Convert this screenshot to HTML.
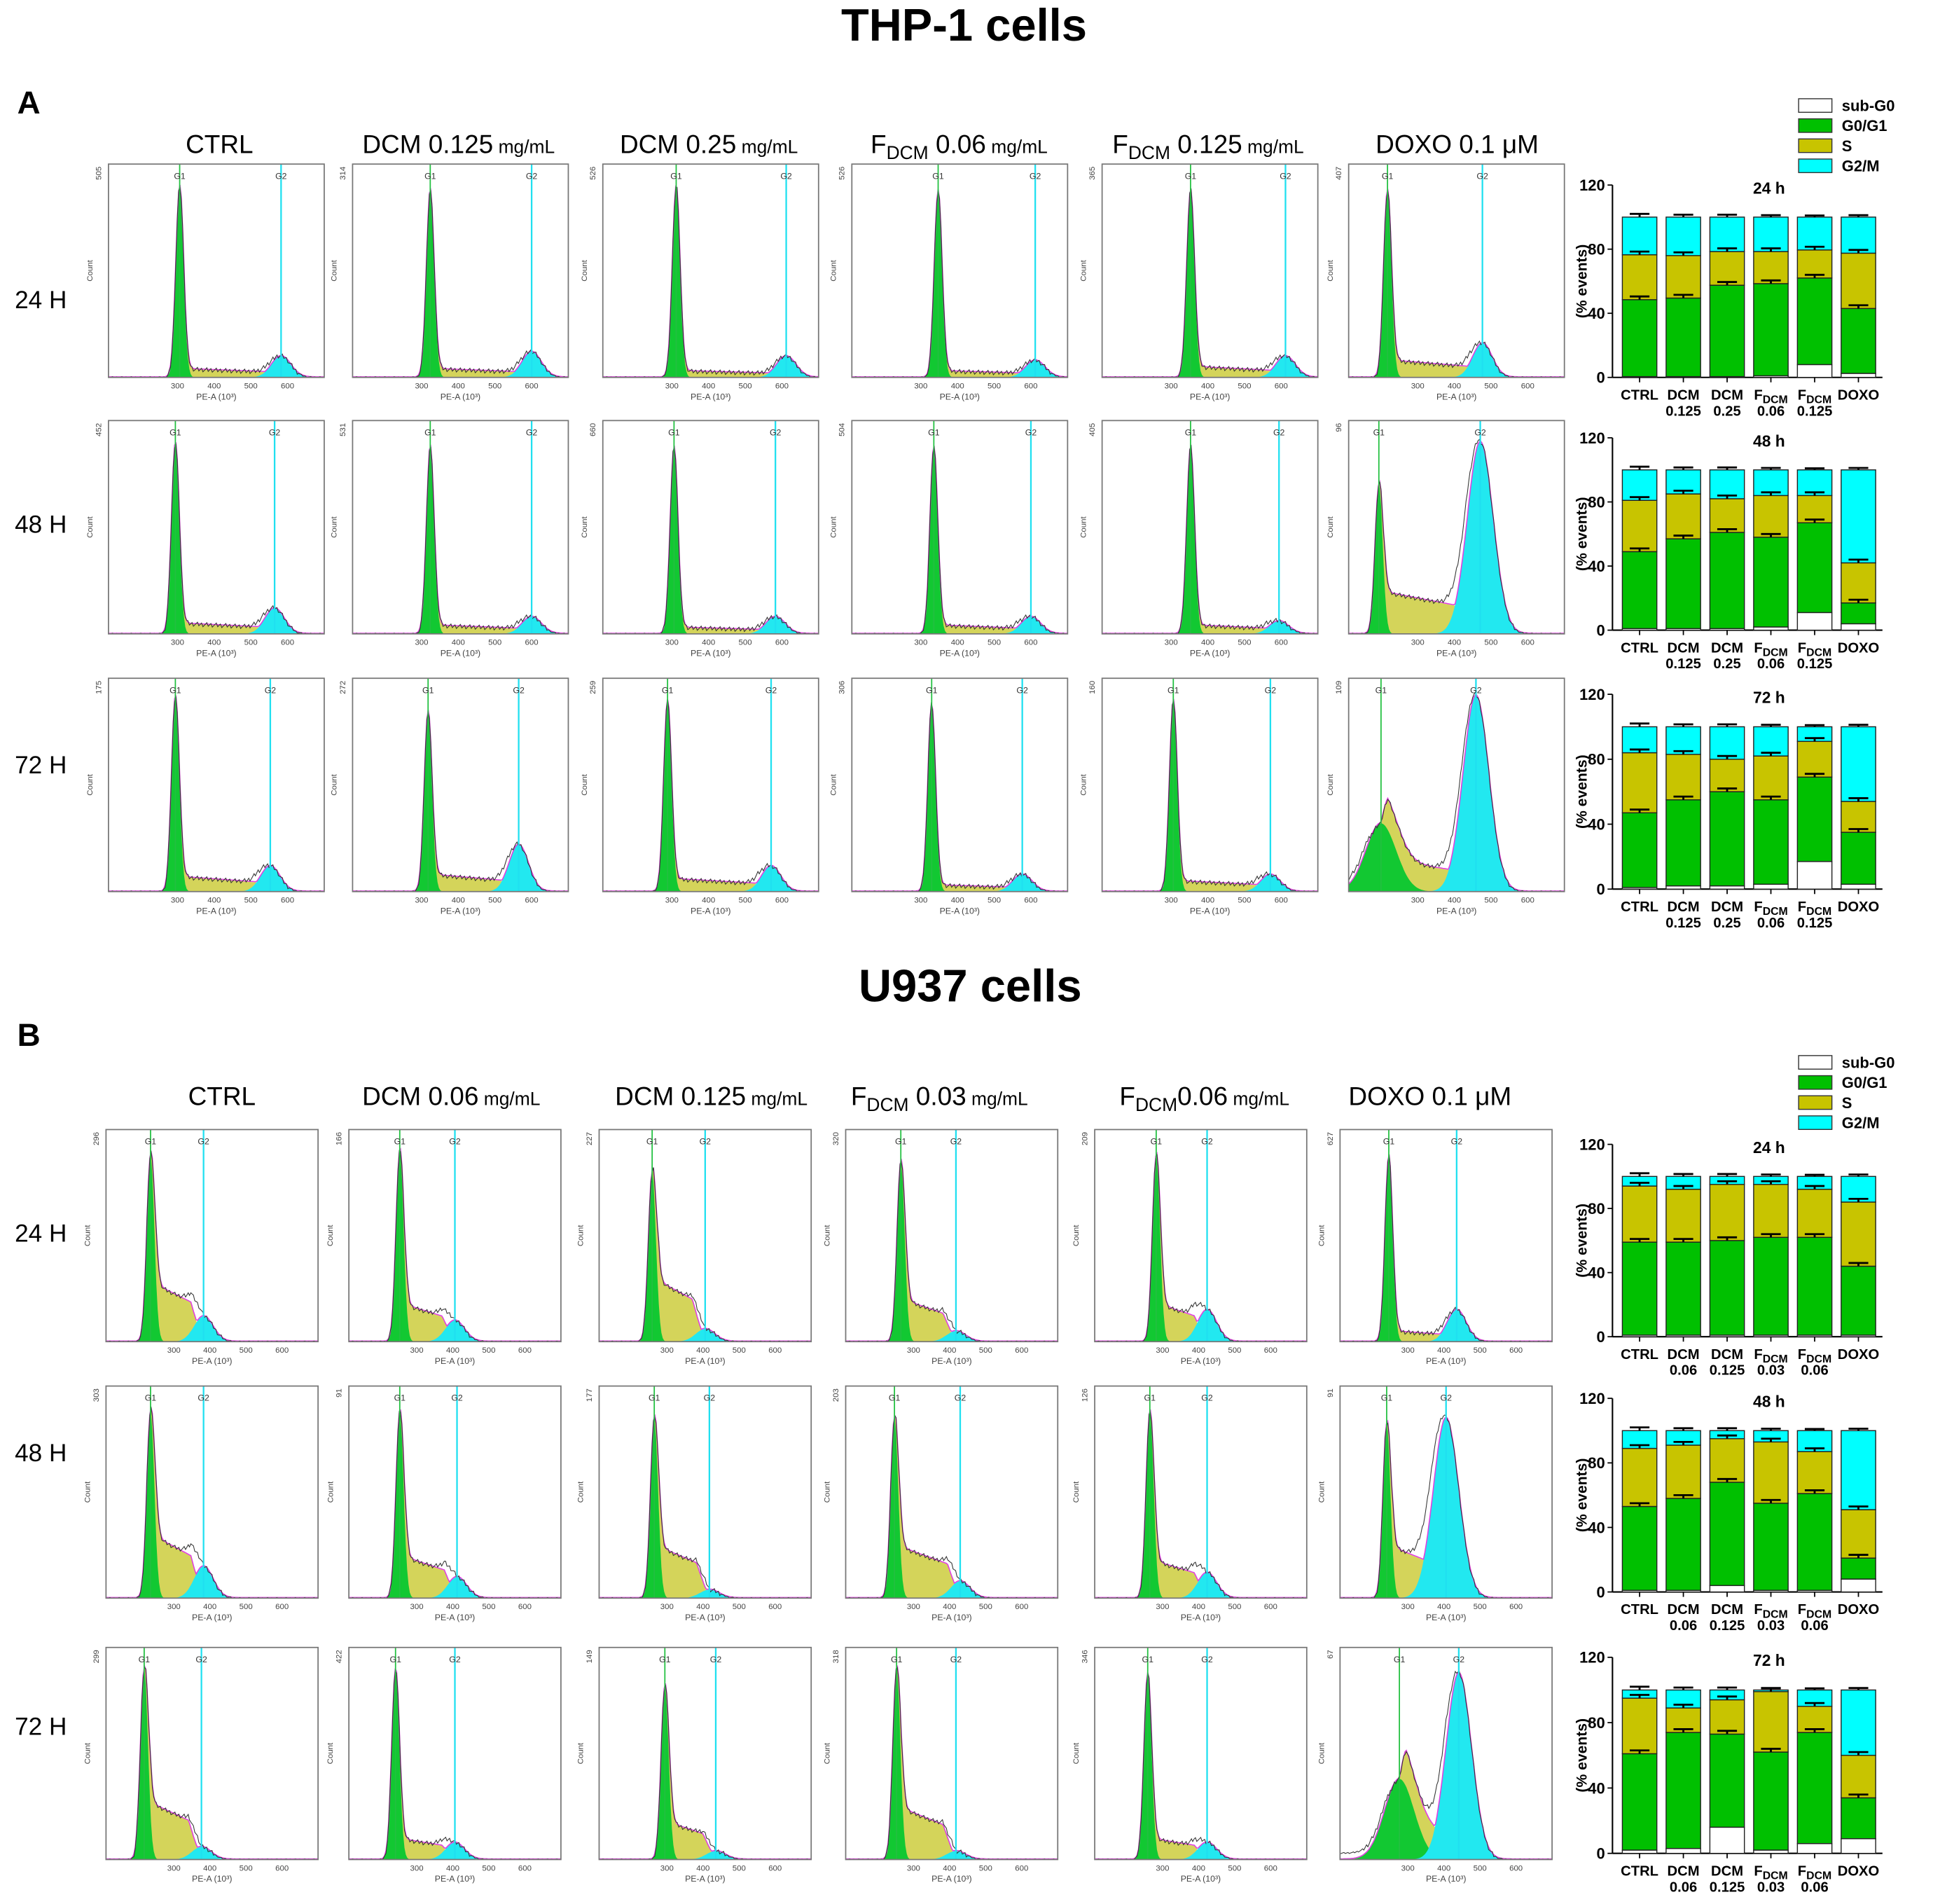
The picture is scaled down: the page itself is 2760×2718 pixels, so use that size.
<!DOCTYPE html>
<html><head><meta charset="utf-8"><style>
html,body{margin:0;padding:0;background:#fff}
svg{display:block}
text{font-family:"Liberation Sans",Arial,sans-serif}
</style></head><body>
<svg id="fig" width="2760" height="2718" viewBox="0 0 1568 1544" xmlns="http://www.w3.org/2000/svg">
<rect width="1568" height="1544" fill="#fff"/>
<text x="782" y="33" font-size="37" font-weight="bold" text-anchor="middle">THP-1 cells</text>
<text x="14" y="92" font-size="26" font-weight="bold">A</text>
<text x="787" y="812" font-size="37" font-weight="bold" text-anchor="middle">U937 cells</text>
<text x="14" y="848" font-size="26" font-weight="bold">B</text>
<g id="hdr" font-size="21"></g>
<g id="hists"></g>
<g id="bars"></g>
</svg>
<script>
// ---- histogram data (per panel, fractions of panel) ----
const g1Pos=[0.33,0.36,0.34,0.40,0.41,0.18, 0.31,0.36,0.33,0.38,0.41,0.14, 0.31,0.35,0.30,0.37,0.33,0.15,
             0.21,0.24,0.25,0.26,0.29,0.23, 0.21,0.24,0.26,0.23,0.26,0.22, 0.18,0.22,0.31,0.24,0.25,0.28];
const g2Pos=[0.80,0.83,0.85,0.85,0.85,0.62, 0.77,0.83,0.80,0.83,0.82,0.61, 0.75,0.77,0.78,0.79,0.78,0.59,
             0.46,0.50,0.50,0.52,0.53,0.55, 0.46,0.51,0.52,0.54,0.53,0.50, 0.45,0.50,0.55,0.52,0.53,0.56];
const g1Height=[0.90,0.88,0.90,0.88,0.88,0.88, 0.90,0.88,0.88,0.88,0.88,0.70, 0.92,0.85,0.90,0.88,0.90,0.32,
                0.88,0.90,0.80,0.85,0.88,0.88, 0.88,0.88,0.85,0.85,0.88,0.82, 0.90,0.90,0.82,0.90,0.88,0.38];
const sLevel=[0.04,0.04,0.03,0.03,0.05,0.08, 0.05,0.04,0.03,0.04,0.04,0.20, 0.07,0.08,0.06,0.03,0.05,0.15,
              0.28,0.18,0.30,0.20,0.18,0.05, 0.30,0.20,0.25,0.25,0.18,0.25, 0.28,0.10,0.18,0.25,0.10,0.18];
const g2Height=[0.10,0.12,0.10,0.08,0.10,0.16, 0.12,0.08,0.08,0.08,0.06,0.90, 0.12,0.22,0.12,0.08,0.08,0.92,
                0.12,0.10,0.06,0.05,0.15,0.15, 0.15,0.10,0.04,0.08,0.12,0.85, 0.06,0.08,0.04,0.04,0.08,0.88];
const yMaxLabels=["505","314","526","526","365","407","452","531","660","504","405","96","175","272","259","306","160","109",
                  "296","166","227","320","209","627","303","91","177","203","126","91","299","422","149","318","346","67"];
const colHeadA=[["CTRL",""],["DCM 0.125"," mg/mL"],["DCM 0.25"," mg/mL"],["F|DCM| 0.06"," mg/mL"],["F|DCM| 0.125"," mg/mL"],["DOXO 0.1 μM",""]];
const colHeadB=[["CTRL",""],["DCM 0.06"," mg/mL"],["DCM 0.125"," mg/mL"],["F|DCM| 0.03"," mg/mL"],["F|DCM|0.06"," mg/mL"],["DOXO 0.1 μM",""]];
const rowLabels=["24 H","48 H","72 H"];

// ---- bar chart data (% events) ----
const categoriesA=["CTRL","DCM|0.125","DCM|0.25","F|0.06","F|0.125","DOXO"];
const categoriesB=["CTRL","DCM|0.06","DCM|0.125","F|0.03","F|0.06","DOXO"];
const timeTitles=["24 h","48 h","72 h"];
const yTicks=[0,40,80,120];
const subG0=[[0.5,0.5,0.5,1,8,2.5],[1,1,1,2,11,4],[1,2,2,3,17,3],
             [1,1,1,1,1,1],[1,1,4,1,1,8],[2,3,16,2,6,9]];
const g0g1=[[48,49,57,57.5,54,40.5],[48,56,60,56,56,13],[46,53,58,52,52,32],
            [58,58,59,61,61,43],[52,57,64,54,60,13],[59,71,57,60,68,25]];
const sPhase=[[28,26.5,21,20,17.5,34.5],[32,28,21,26,17,25],[37,28,20,27,22,19],
              [35,33,35,33,30,40],[36,33,27,38,26,30],[34,15,21,37,16,26]];
const errTop=[2,1.5,1.5,1.2,1,1.2];

const NS="http://www.w3.org/2000/svg";
function mk(tag,attrs,parent,txt){const e=document.createElementNS(NS,tag);for(const k in attrs)e.setAttribute(k,attrs[k]);if(txt!==undefined)e.textContent=txt;parent.appendChild(e);return e;}

// headers
const hdr=document.getElementById('hdr');
function header(list,centers,y){
  list.forEach((h,i)=>{
    const t=mk('text',{x:centers[i],y:y,'text-anchor':'middle','font-size':21},hdr);
    
    
    const parts=h[0].split('|');
    if(parts.length===3){
      mk('tspan',{},t,parts[0]);
      mk('tspan',{dy:5,'font-size':15},t,parts[1]);
      mk('tspan',{dy:-5},t,parts[2]);
    } else mk('tspan',{},t,parts[0]);
    if(h[1])mk('tspan',{'font-size':15},t,h[1]);
  });
}
header(colHeadA,[178,372,575,778,980,1182],124);
header(colHeadB,[180,366,577,762,977,1160],896);
[[243,425,620],[1000,1178,1400]].forEach(ys=>ys.forEach((y,i)=>{
  const t=mk('text',{x:12,y:y+7,'font-size':20},hdr,rowLabels[i]);
  
  
}));

// histograms
const hg=document.getElementById('hists');
const colsA=[88,286,489,691,894,1094], rowsA=[133,341,550];
const colsB=[86,283,486,686,888,1087], rowsB=[916,1124,1336];
function gauss(x,m,s){return Math.exp(-0.5*((x-m)/s)**2);}
function drawHist(idx,x0,y0,w,h){
  const g=mk('g',{},hg);
  
  
  const p1=g1Pos[idx],p2=g2Pos[idx],h1=g1Height[idx],sl=sLevel[idx],h2=g2Height[idx];
  const broad=h1<0.5;
  const w1=broad?0.07:0.018, w2=h2>0.5?0.06:0.045;
  const N=160, X=i=>x0+w*i/N, Y=v=>y0+h-h*v;
  let pg1=[],ps=[],pg2=[],tot=[];
  for(let i=0;i<=N;i++){
    const f=i/N;
    const a=h1*gauss(f,p1,w1);
    const sp=(f>p1&&f<p2)?sl*(1-0.45*(f-p1)/(p2-p1))*Math.min(1,(f-p1)/0.03)*Math.min(1,(p2-f)/0.06):0;
    const b=h2*gauss(f,p2,w2);
    pg1.push([X(i),Y(a)]);ps.push([X(i),Y(a+sp)]);pg2.push([X(i),Y(b)]);
    const noise=((i*37)%7-3)/300;
    tot.push([X(i),Y(Math.max(0,a+sp+b+(f<p1-0.05&&broad?0.03:0)+noise*(a+sp+b>0.02?1:0.3)))]);
  }
  const poly=pts=>`M${x0},${y0+h} `+pts.map(p=>`L${p[0].toFixed(1)},${p[1].toFixed(1)}`).join(' ')+` L${x0+w},${y0+h}Z`;
  const line=pts=>'M'+pts.map(p=>`${p[0].toFixed(1)},${p[1].toFixed(1)}`).join(' L');
  const e1=mk('path',{d:poly(ps),fill:'#d4d45a'},g);
  const e2=mk('path',{d:poly(pg1),fill:'#12c832'},g);
  const e3=mk('path',{d:poly(pg2),fill:'#22e8f0'},g);
  const e4=mk('path',{d:line(ps.map((p,i)=>[p[0],Math.min(p[1],pg2[i][1])-0.5])),fill:'none',stroke:'#e040e0','stroke-width':0.9},g);
  const e5=mk('path',{d:line(tot),fill:'none',stroke:'#333','stroke-width':0.6},g);
  const l1=mk('line',{x1:x0+w*p1,x2:x0+w*p1,y1:y0,y2:y0+h,stroke:'#22c040','stroke-width':1},g);
  const l2=mk('line',{x1:x0+w*p2,x2:x0+w*p2,y1:y0,y2:y0+h,stroke:'#20e0f0','stroke-width':1.3},g);
  const t1=mk('text',{x:x0+w*p1,y:y0+12,'font-size':7,'text-anchor':'middle',fill:'#333'},g,'G1');
  const t2=mk('text',{x:x0+w*p2,y:y0+12,'font-size':7,'text-anchor':'middle',fill:'#333'},g,'G2');
  const fr=mk('rect',{x:x0,y:y0,width:w,height:h,fill:'none',stroke:'#777','stroke-width':1},g);
  const ym=mk('text',{x:x0-6,y:y0+2,'font-size':6.5,fill:'#444',transform:`rotate(-90 ${x0-6} ${y0+2})`,'text-anchor':'end'},g,yMaxLabels[idx]);
  const yc=mk('text',{x:x0-13,y:y0+h/2,'font-size':6.5,fill:'#444',transform:`rotate(-90 ${x0-13} ${y0+h/2})`,'text-anchor':'middle'},g,'Count');
  for(let k=1;k<5;k++){const tt=mk('text',{x:x0+w*(0.15+k*0.17),y:y0+h+9,'font-size':6.5,fill:'#444','text-anchor':'middle'},g,String(200+k*100));}
  const xt=mk('text',{x:x0+w/2,y:y0+h+18,'font-size':7,fill:'#444','text-anchor':'middle'},g,'PE-A (10³)');
}
rowsA.forEach((ry,r)=>colsA.forEach((cx,c)=>drawHist(r*6+c,cx,ry,175,173)));
rowsB.forEach((ry,r)=>colsB.forEach((cx,c)=>drawHist(18+r*6+c,cx,ry,172,172)));

// bar charts
const bg=document.getElementById('bars');
const charts=[[150,306],[355,511],[563,721],[928,1084],[1134,1291],[1344,1503]];
const AX=1308, AXEND=1527, BW=28, STEP=35.5, B0=1316;
function drawBars(ci){
  const [yt,yb]=charts[ci];
  const Y=v=>yb-(yb-yt)*v/120;
  const cats=ci<3?categoriesA:categoriesB;
  const g=mk('g',{},bg);
  
  
  const tl=mk('text',{x:1435,y:yt+7,'font-size':13,'font-weight':'bold','text-anchor':'middle'},g,timeTitles[ci%3]);
  
  const ya=mk('line',{x1:AX,x2:AX,y1:yt,y2:yb,stroke:'#000','stroke-width':1.2},g);
  const xa=mk('line',{x1:AX,x2:AXEND,y1:yb,y2:yb,stroke:'#000','stroke-width':1.2},g);
  yTicks.forEach(v=>{
    const tk=mk('line',{x1:AX-4,x2:AX,y1:Y(v),y2:Y(v),stroke:'#000'},g);
    const tx=mk('text',{x:AX-6,y:Y(v)+4.5,'font-size':12.5,'font-weight':'bold','text-anchor':'end'},g,String(v));
  });
  const yl=mk('text',{x:AX-21,y:(yt+yb)/2,'font-size':12,'font-weight':'bold','text-anchor':'middle',transform:`rotate(-90 ${AX-21} ${(yt+yb)/2})`},g,'(% events)');
  
  cats.forEach((c,i)=>{
    const x=B0+i*STEP;
    const a=subG0[ci][i], b=g0g1[ci][i], s=sPhase[ci][i];
    const segs=[[0,a,'#fff','subg0'],[a,a+b,'#00c000','g0g1'],[a+b,a+b+s,'#c8c400','s'],[a+b+s,100,'#00ffff','g2m']];
    segs.forEach(sg=>{
      const r=mk('rect',{x:x,y:Y(sg[1]),width:BW,height:Math.max(0,Y(sg[0])-Y(sg[1])),fill:sg[2],stroke:'#222','stroke-width':0.8},g);
      
      
    });
    [a+b,a+b+s,100].forEach((v,k)=>{
      const e=k===2?errTop[i]:2;
      const el=mk('path',{d:`M${x+BW/2},${Y(v)} V${Y(v+e)} M${x+BW/2-8},${Y(v+e)} H${x+BW/2+8}`,stroke:'#000','stroke-width':1.6,fill:'none'},g);
      
    });
    const tk=mk('line',{x1:x+BW/2,x2:x+BW/2,y1:yb,y2:yb+4,stroke:'#000'},g);
    const p=c.split('|');
    const t=mk('text',{x:x+BW/2,y:yb+18,'font-size':11.5,'font-weight':'bold','text-anchor':'middle'},g);
    
    if(p[0]==='F'){mk('tspan',{},t,'F');mk('tspan',{'font-size':9,dy:3},t,'DCM');}
    else mk('tspan',{},t,p[0]);
    if(p[1]){const t2=mk('text',{x:x+BW/2,y:yb+31,'font-size':11.5,'font-weight':'bold','text-anchor':'middle'},g,p[1]);}
  });
}
for(let i=0;i<6;i++)drawBars(i);
// legends
const legNames=['sub-G0','G0/G1','S','G2/M'], legCols=['#fff','#00c000','#c8c400','#00ffff'];
[80,856].forEach(ly=>{
  const g=mk('g',{},bg);
  
  
  legNames.forEach((n,i)=>{
    const r=mk('rect',{x:1459,y:ly+i*16.3,width:27,height:11,fill:legCols[i],stroke:'#333','stroke-width':0.8},g);
    
    const t=mk('text',{x:1494,y:ly+i*16.3+10,'font-size':12.5,'font-weight':'bold'},g,n);
    
  });
});
</script>
</body></html>
